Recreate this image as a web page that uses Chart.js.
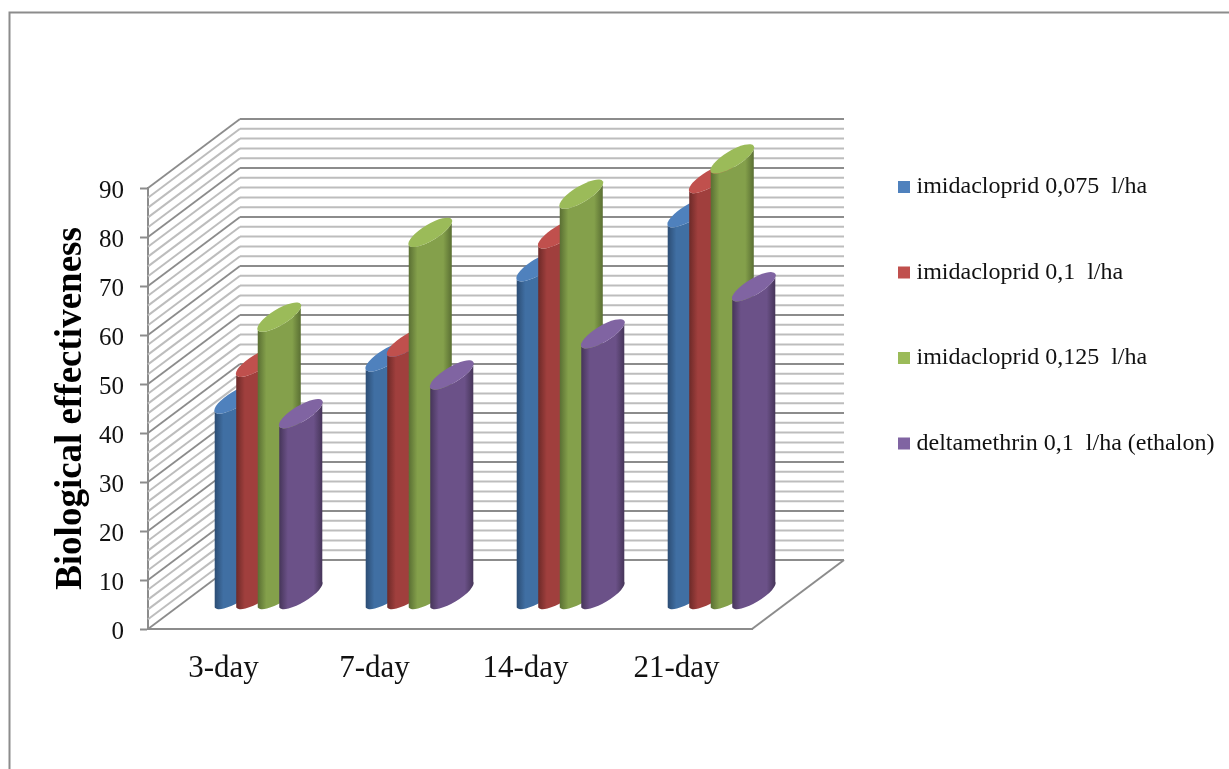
<!DOCTYPE html>
<html lang="en">
<head>
  <meta charset="UTF-8">
  <title>Biological effectiveness</title>
  <style>
    html, body { margin: 0; padding: 0; background: #fff; overflow: hidden; }
    canvas { display: block; }
  </style>
</head>
<body>
  <canvas id="chart" width="1229" height="769"></canvas>

  <script src="https://cdn.jsdelivr.net/npm/chart.js"></script>
  <script>
    var categories = ['3-day', '7-day', '14-day', '21-day'];
    var seriesNames = ['imidacloprid 0,075  l/ha', 'imidacloprid 0,1  l/ha', 'imidacloprid 0,125  l/ha', 'deltamethrin 0,1  l/ha (ethalon)'];
    var imidacloprid075 = [40, 48.6, 67, 78];
    var imidacloprid100 = [47.5, 51.6, 73.7, 85];
    var imidacloprid125 = [56.7, 74, 81.8, 89];
    var deltamethrin = [37, 44.9, 53.3, 62.9];

    // top face, body centre, body edge
    var topColors = ['#4f81bd', '#c0504d', '#9bbb59', '#8064a2'];
    var bodyColors = ['#406fa3', '#a03f3d', '#84a04b', '#6b5188'];
    var edgeColors = ['#2c4d74', '#6d2a28', '#5a6f33', '#463559'];

    var serif = '"Liberation Serif", "Times New Roman", serif';
    var axisGrey = '#8c8c8c';
    var minorGrey = '#bdbdbd';

    // 3D projection: depth of the walls and of the bar row
    var wallDx = 92, wallDy = -69;
    var barDx = 45, barDy = -34;
    var tilt = 13, minorRadius = 8;
    var minorStep = 2;

    function line(ctx, x1, y1, x2, y2) {
      ctx.beginPath();
      ctx.moveTo(x1, y1);
      ctx.lineTo(x2, y2);
      ctx.stroke();
    }

    function drawWalls(chart) {
      var ctx = chart.ctx, area = chart.chartArea, y = chart.scales.y;
      ctx.save();
      // floor
      ctx.strokeStyle = axisGrey;
      ctx.lineWidth = 2;
      line(ctx, area.right, area.bottom, area.right + wallDx, area.bottom + wallDy);
      for (var v = y.min; v <= y.max; v += minorStep) {
        var py = y.getPixelForValue(v);
        var major = v % 10 === 0;
        ctx.strokeStyle = major ? axisGrey : minorGrey;
        ctx.lineWidth = major ? 1.8 : 2;
        line(ctx, area.left, py, area.left + wallDx, py + wallDy);
        line(ctx, area.left + wallDx, py + wallDy, area.right + wallDx, py + wallDy);
      }
      ctx.restore();
    }

    function drawCylinder(ctx, x, top, bottom, halfWidth, i) {
      var a = Math.hypot(halfWidth, tilt);
      var rot = -Math.atan2(tilt, halfWidth);
      var grad = ctx.createLinearGradient(x - halfWidth, 0, x + halfWidth, 0);
      grad.addColorStop(0, edgeColors[i]);
      grad.addColorStop(0.2, bodyColors[i]);
      grad.addColorStop(0.8, bodyColors[i]);
      grad.addColorStop(1, edgeColors[i]);

      ctx.beginPath();
      ctx.ellipse(x, bottom, a, minorRadius, rot, 0, Math.PI);
      ctx.lineTo(x - halfWidth, top + tilt);
      ctx.ellipse(x, top, a, minorRadius, rot, Math.PI, 0, true);
      ctx.closePath();
      ctx.fillStyle = grad;
      ctx.fill();

      ctx.beginPath();
      ctx.ellipse(x, top, a, minorRadius, rot, 0, Math.PI * 2);
      ctx.fillStyle = topColors[i];
      ctx.fill();
    }

    var cylinders = {
      id: 'cylinders',
      beforeDraw: function(chart) {
        // page frame, open on the right and at the bottom
        var ctx = chart.ctx;
        ctx.save();
        ctx.strokeStyle = axisGrey;
        ctx.lineWidth = 2;
        ctx.beginPath();
        ctx.moveTo(9.5, chart.height);
        ctx.lineTo(9.5, 12.5);
        ctx.lineTo(chart.width, 12.5);
        ctx.stroke();
        ctx.restore();
      },
      afterLayout: function(chart) {
        // legend sits past the right wall, not against the chart area
        var pad = chart.options.plugins.legend.labels.padding;
        chart.legend.left = 903.5 - pad;
        chart.legend.right = chart.width;
        chart.legend.top = 175 - pad;
      },
      beforeDatasetsDraw: function(chart) {
        drawWalls(chart);
        // each bar is twice its slot wide so neighbours overlap, first series at the back
        chart.data.datasets.forEach(function(ds, i) {
          chart.getDatasetMeta(i).data.forEach(function(bar) {
            drawCylinder(chart.ctx, bar.x + barDx, bar.y + barDy, bar.base + barDy, bar.width, i);
          });
        });
        return false;
      }
    };

    var allValues = [imidacloprid075, imidacloprid100, imidacloprid125, deltamethrin];

    new Chart(document.getElementById('chart'), {
      type: 'bar',
      plugins: [cylinders],
      data: {
        labels: categories,
        datasets: allValues.map(function(values, i) {
          return {
            label: seriesNames[i],
            data: values,
            backgroundColor: topColors[i],
            borderColor: topColors[i],
            borderWidth: 11,
            categoryPercentage: 0.57,
            barPercentage: 1
          };
        })
      },
      options: {
        responsive: false,
        animation: false,
        layout: {
          autoPadding: false,
          padding: { top: 188, right: 377, left: 0, bottom: 0 }
        },
        plugins: {
          tooltip: { enabled: false },
          legend: {
            position: 'right',
            align: 'start',
            maxWidth: 100,
            labels: {
              boxWidth: 1,
              boxHeight: 1,
              padding: 61.5,
              color: '#111',
              font: { family: serif, size: 24 }
            }
          }
        },
        scales: {
          x: {
            afterFit: function(scale) { scale.height = 140; },
            grid: { drawOnChartArea: false, drawTicks: false },
            border: { color: axisGrey, width: 2 },
            ticks: { color: '#111', padding: 21, maxRotation: 0, font: { family: serif, size: 31 } }
          },
          y: {
            min: 0,
            max: 90,
            afterFit: function(scale) { scale.width = 148; },
            grid: { drawOnChartArea: false, tickLength: 8, tickColor: axisGrey, tickWidth: 2 },
            border: { color: axisGrey, width: 2 },
            ticks: { stepSize: 10, color: '#111', padding: 16, labelOffset: 3, font: { family: serif, size: 25 } },
            title: {
              display: true,
              text: 'Biological effectiveness',
              color: '#000',
              padding: { top: 49, bottom: 0 },
              font: { family: serif, size: 37, weight: 'bold' }
            }
          }
        }
      }
    });
  </script>
</body>
</html>
